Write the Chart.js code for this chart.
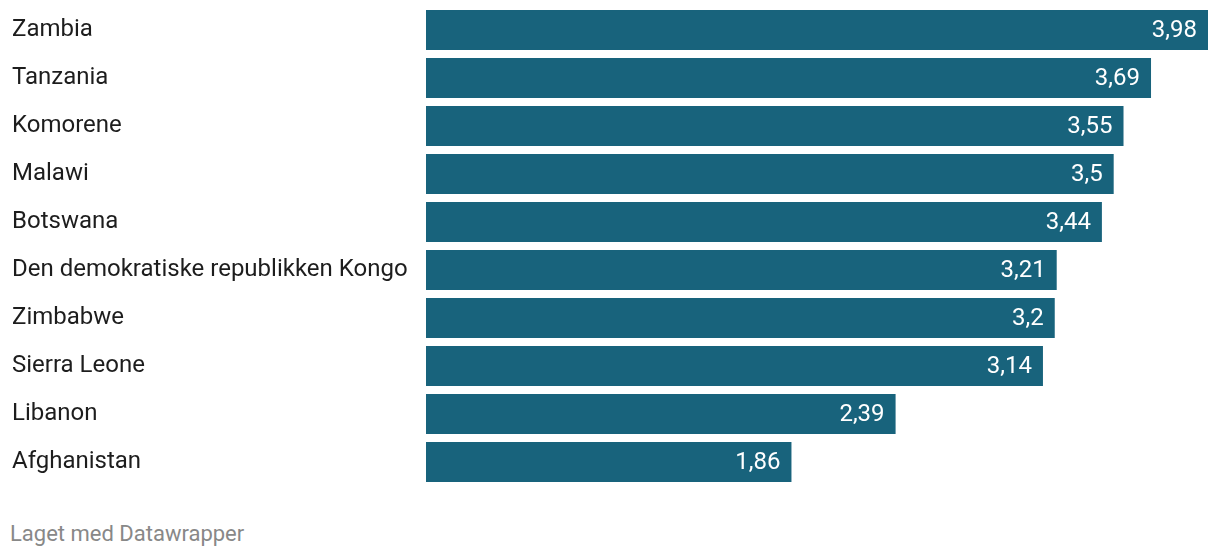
<!DOCTYPE html>
<html>
<head>
<meta charset="utf-8">
<script src="https://cdn.jsdelivr.net/npm/chart.js@4"></script>
<style>
  html, body { margin: 0; padding: 0; background: #fff; }
  #wrap { position: relative; width: 1220px; height: 500px; }
  #footer { position: absolute; left: 10px; top: 521px; font: 22px Roboto, sans-serif; color: #888; }
</style>
</head>
<body>
<div id="wrap"><canvas id="chart"></canvas></div>
<div id="footer">Laget med Datawrapper</div>
<script>
const countries = ['Zambia', 'Tanzania', 'Komorene', 'Malawi', 'Botswana',
  'Den demokratiske republikken Kongo', 'Zimbabwe', 'Sierra Leone', 'Libanon', 'Afghanistan'];
const values = [3.98, 3.69, 3.55, 3.5, 3.44, 3.21, 3.2, 3.14, 2.39, 1.86];

const barColor = '#18637c';

// value labels drawn inside the bar end
const valueLabels = {
  id: 'valueLabels',
  afterDatasetsDraw(chart) {
    const ctx = chart.ctx;
    const meta = chart.getDatasetMeta(0);
    ctx.save();
    ctx.font = '24px Roboto, sans-serif';
    ctx.fillStyle = '#fff';
    ctx.textAlign = 'right';
    ctx.textBaseline = 'middle';
    meta.data.forEach((bar, i) => {
      ctx.fillText(String(values[i]).replace('.', ','), bar.x - 11, bar.y + 1);
    });
    ctx.restore();
  }
};

new Chart(document.getElementById('chart'), {
  type: 'bar',
  data: {
    labels: countries,
    datasets: [{
      data: values,
      backgroundColor: barColor,
      barPercentage: 1,
      categoryPercentage: 40 / 48
    }]
  },
  options: {
    indexAxis: 'y',
    responsive: true,
    maintainAspectRatio: false,
    animation: false,
    layout: { padding: { left: 12, right: 12, top: 6, bottom: 14 } },
    plugins: { legend: { display: false }, tooltip: { enabled: false } },
    scales: {
      x: { display: false, min: 0, max: 3.98 },
      y: {
        grid: { display: false },
        border: { display: false },
        afterFit(scale) {
          scale.width = 414;
          scale.paddingTop = 0;
          scale.paddingBottom = 0;
        },
        ticks: {
          crossAlign: 'far',
          padding: 0,
          color: '#1d1d1d',
          font: { family: 'Roboto', size: 24 }
        }
      }
    }
  },
  plugins: [valueLabels]
});
</script>
</body>
</html>
